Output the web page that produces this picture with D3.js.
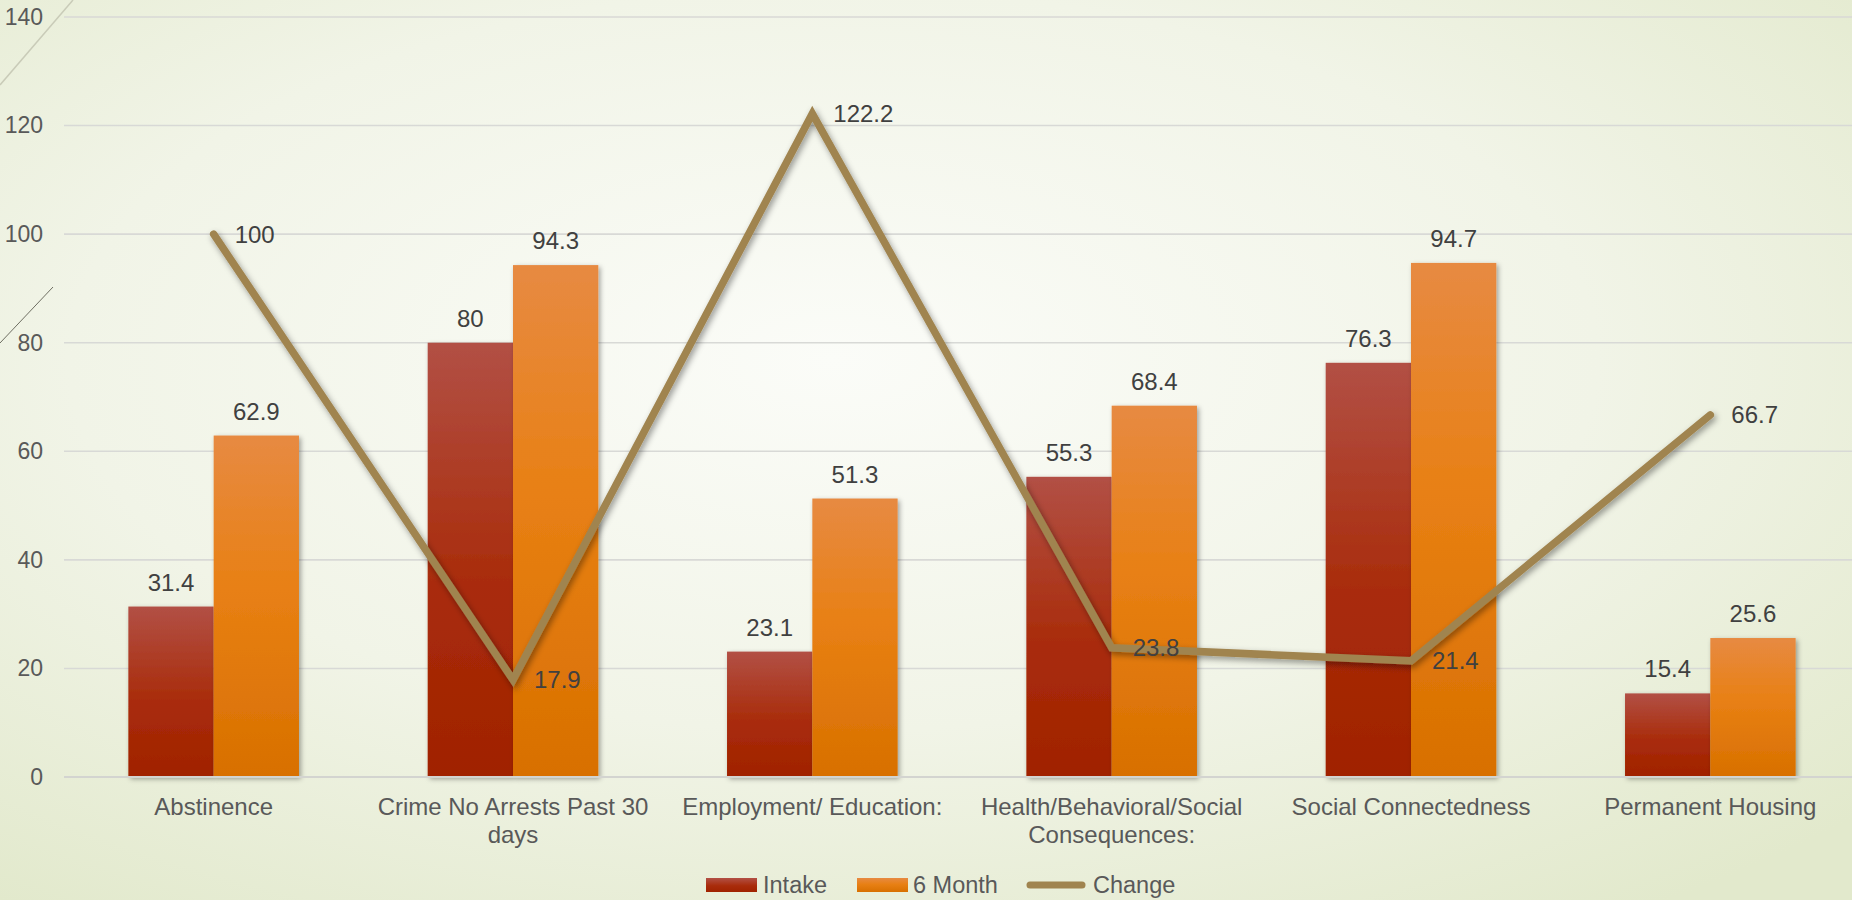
<!DOCTYPE html>
<html>
<head>
<meta charset="utf-8">
<script src="https://cdn.jsdelivr.net/npm/d3@7"></script>
<style>
  html, body { margin: 0; padding: 0; overflow: hidden; }
  body { width: 1852px; height: 900px; }
  text { font-family: "Liberation Sans", Arial, sans-serif; }
</style>
</head>
<body>
<svg id="chart" width="1852" height="900"></svg>
<script>
const categories = ["Abstinence", "Crime No Arrests Past 30 days", "Employment/ Education:", "Health/Behavioral/Social Consequences:", "Social Connectedness", "Permanent Housing"];
const intake = [31.4, 80, 23.1, 55.3, 76.3, 15.4];
const sixMonth = [62.9, 94.3, 51.3, 68.4, 94.7, 25.6];
const change = [100, 17.9, 122.2, 23.8, 21.4, 66.7];
const yTicks = [0, 20, 40, 60, 80, 100, 120, 140];
const seriesNames = ["Intake", "6 Month", "Change"];

const W = 1852, H = 900;
const plot = { left: 64, right: 1860, top: 17, bottom: 777 };

const svg = d3.select("#chart");
const defs = svg.append("defs");

// background gradient
const bg = defs.append("radialGradient").attr("id", "bg")
  .attr("cx", "45%").attr("cy", "40%").attr("r", "75%");
bg.append("stop").attr("offset", "0%").attr("stop-color", "#fbfcf8");
bg.append("stop").attr("offset", "55%").attr("stop-color", "#f1f4e7");
bg.append("stop").attr("offset", "100%").attr("stop-color", "#e2e9cc");

const gI = defs.append("linearGradient").attr("id", "gIntake").attr("x1", 0).attr("y1", 0).attr("x2", 0).attr("y2", 1);
gI.append("stop").attr("offset", "0%").attr("stop-color", "#b25045");
gI.append("stop").attr("offset", "55%").attr("stop-color", "#a92c0b");
gI.append("stop").attr("offset", "100%").attr("stop-color", "#a02200");

const g6 = defs.append("linearGradient").attr("id", "gSix").attr("x1", 0).attr("y1", 0).attr("x2", 0).attr("y2", 1);
g6.append("stop").attr("offset", "0%").attr("stop-color", "#e78a42");
g6.append("stop").attr("offset", "45%").attr("stop-color", "#e88014");
g6.append("stop").attr("offset", "100%").attr("stop-color", "#d87000");

const shadow = defs.append("filter").attr("id", "shadow").attr("x", "-20%").attr("y", "-20%").attr("width", "140%").attr("height", "140%");
shadow.append("feDropShadow").attr("dx", 2).attr("dy", 2).attr("stdDeviation", 2.5)
  .attr("flood-color", "#000").attr("flood-opacity", 0.35);

const lshadow = defs.append("filter").attr("id", "lshadow").attr("x", "-20%").attr("y", "-20%").attr("width", "140%").attr("height", "140%");
lshadow.append("feDropShadow").attr("dx", 2).attr("dy", 3).attr("stdDeviation", 3)
  .attr("flood-color", "#000").attr("flood-opacity", 0.4);

svg.append("rect").attr("width", W).attr("height", H).attr("fill", "url(#bg)");

// decorative template lines
svg.append("line").attr("x1", 0).attr("y1", 85).attr("x2", 73).attr("y2", 0)
  .attr("stroke", "#c9cbb8").attr("stroke-width", 1.5);
svg.append("line").attr("x1", 0).attr("y1", 343).attr("x2", 53).attr("y2", 287)
  .attr("stroke", "#6e6e62").attr("stroke-width", 1);

const x = d3.scaleBand().domain(categories).range([plot.left, plot.right]).paddingInner(0.43).paddingOuter(0.215);
const x1 = d3.scaleBand().domain(["Intake", "6 Month"]).range([0, x.bandwidth()]);
const y = d3.scaleLinear().domain([0, 140]).range([plot.bottom, plot.top]);

// gridlines
svg.append("g").selectAll("line").data(yTicks.filter(d => d > 0)).join("line")
  .attr("x1", plot.left).attr("x2", W)
  .attr("y1", d => y(d)).attr("y2", d => y(d))
  .attr("stroke", "#d8d9d6").attr("stroke-width", 1.6);

// y axis labels
const yAxis = d3.axisLeft(y).tickValues(yTicks).tickSize(0).tickPadding(0);
const ya = svg.append("g").attr("transform", `translate(43,0)`).call(yAxis);
ya.select(".domain").remove();
ya.selectAll("text").attr("font-size", 23).attr("fill", "#595959")
  .attr("font-family", "Liberation Sans, Arial, sans-serif");

// bars
const groups = svg.append("g").selectAll("g").data(categories).join("g")
  .attr("transform", d => `translate(${x(d)},0)`);

groups.append("rect")
  .attr("x", x1("Intake")).attr("width", x1.bandwidth())
  .attr("y", (d, i) => y(intake[i])).attr("height", (d, i) => y(0) - y(intake[i]))
  .attr("fill", "url(#gIntake)").attr("filter", "url(#shadow)");
groups.append("rect")
  .attr("x", x1("6 Month")).attr("width", x1.bandwidth())
  .attr("y", (d, i) => y(sixMonth[i])).attr("height", (d, i) => y(0) - y(sixMonth[i]))
  .attr("fill", "url(#gSix)").attr("filter", "url(#shadow)");

// baseline
svg.append("line").attr("x1", plot.left).attr("x2", W)
  .attr("y1", y(0)).attr("y2", y(0))
  .attr("stroke", "#d3d4d0").attr("stroke-width", 2);

// bar labels
groups.append("text")
  .attr("x", x1("Intake") + x1.bandwidth() / 2).attr("y", (d, i) => y(intake[i]) - 16)
  .attr("text-anchor", "middle").attr("font-size", 24).attr("fill", "#404040")
  .text((d, i) => intake[i]);
groups.append("text")
  .attr("x", x1("6 Month") + x1.bandwidth() / 2).attr("y", (d, i) => y(sixMonth[i]) - 16)
  .attr("text-anchor", "middle").attr("font-size", 24).attr("fill", "#404040")
  .text((d, i) => sixMonth[i]);

// change line
const cx = d => x(d) + x.bandwidth() / 2;
const line = d3.line().x((d, i) => cx(categories[i])).y(d => y(d));
svg.append("path").datum(change).attr("d", line)
  .attr("fill", "none").attr("stroke", "#a0844f").attr("stroke-width", 7.5)
  .attr("stroke-linejoin", "miter").attr("stroke-linecap", "round")
  .attr("filter", "url(#lshadow)");

svg.append("g").selectAll("text").data(change).join("text")
  .attr("x", (d, i) => cx(categories[i]) + 21).attr("y", d => y(d))
  .attr("dy", "0.35em").attr("font-size", 24).attr("fill", "#404040")
  .text(d => d);

// category labels with wrapping
const catG = svg.append("g");
categories.forEach(c => {
  const t = catG.append("text").attr("x", cx(c)).attr("y", 815)
    .attr("text-anchor", "middle").attr("font-size", 24).attr("fill", "#595959");
  const words = c.split(" ");
  let lineWords = [];
  let tspan = t.append("tspan").attr("x", cx(c)).attr("dy", 0);
  words.forEach(w => {
    lineWords.push(w);
    tspan.text(lineWords.join(" "));
    if (tspan.node().getComputedTextLength() > 290 && lineWords.length > 1) {
      lineWords.pop();
      tspan.text(lineWords.join(" "));
      lineWords = [w];
      tspan = t.append("tspan").attr("x", cx(c)).attr("dy", 28).text(w);
    }
  });
});

// legend
const leg = svg.append("g");
const ly = 885;
leg.append("rect").attr("x", 706).attr("y", ly - 7).attr("width", 51).attr("height", 14).attr("fill", "url(#gIntake)");
leg.append("text").attr("x", 763).attr("y", ly).attr("dy", "0.35em").attr("font-size", 23.5).attr("fill", "#595959").text(seriesNames[0]);
leg.append("rect").attr("x", 857).attr("y", ly - 7).attr("width", 51).attr("height", 14).attr("fill", "url(#gSix)");
leg.append("text").attr("x", 913).attr("y", ly).attr("dy", "0.35em").attr("font-size", 23.5).attr("fill", "#595959").text(seriesNames[1]);
leg.append("line").attr("x1", 1030).attr("x2", 1082).attr("y1", ly).attr("y2", ly)
  .attr("stroke", "#a0844f").attr("stroke-width", 7).attr("stroke-linecap", "round");
leg.append("text").attr("x", 1093).attr("y", ly).attr("dy", "0.35em").attr("font-size", 23.5).attr("fill", "#595959").text(seriesNames[2]);
</script>
</body>
</html>
